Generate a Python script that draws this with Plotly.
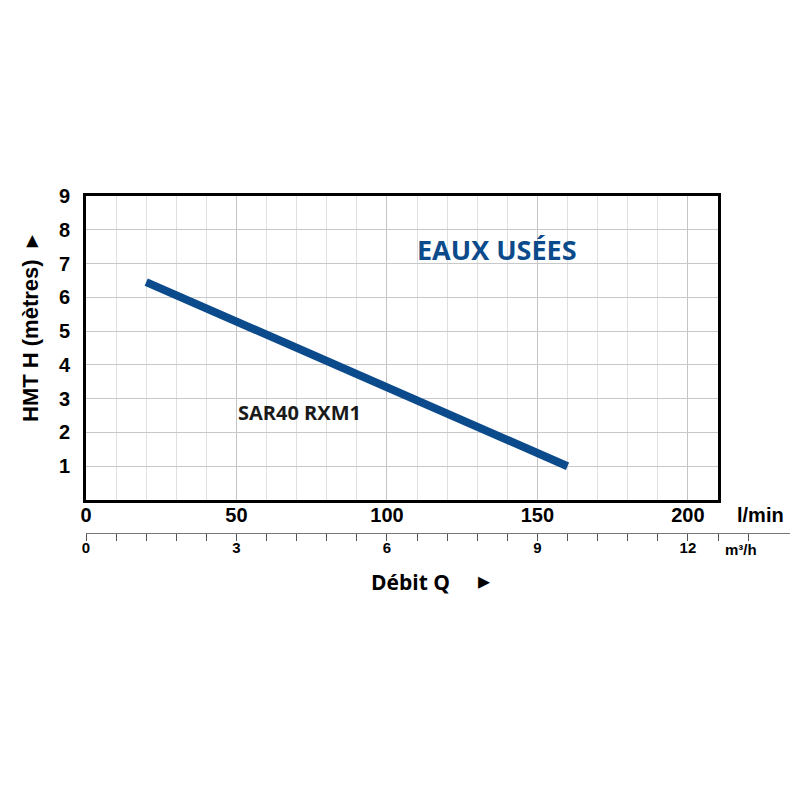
import plotly.graph_objects as go

# Data
flow_lmin = [20, 50, 100, 150, 160]
head_m = [6.45, 5.27, 3.33, 1.38, 1.0]
x_tick_vals = [0, 50, 100, 150, 200]
y_tick_vals = [1, 2, 3, 4, 5, 6, 7, 8, 9]
m3h_tick_vals = [0, 3, 6, 9, 12]
m3h_minor_vals = [round(0.6 * i, 2) for i in range(0, 23)]

X_MAX = 210
Y_MAX = 9
BLUE = "#0b4a8b"
ARIAL = "Liberation Sans, Arial, sans-serif"
OPEN = "Open Sans, sans-serif"

# screen geometry (page body has an 8px margin)
OFF = 8
P_L, P_R, P_T, P_B = 86, 790, 196, 560   # paper area on screen
PW, PH = P_R - P_L, P_B - P_T
PLOT_R, PLOT_B = 718, 500


def px(s):
    return (s - P_L) / PW


def py(s):
    return (P_B - s) / PH


px_per_l = (PLOT_R - P_L) / X_MAX
m3h_max = PW / px_per_l * 0.06

fig = go.Figure()
fig.add_trace(go.Scatter(x=flow_lmin, y=head_m, mode="lines",
                         line=dict(color=BLUE, width=8), showlegend=False,
                         hoverinfo="skip"))
# invisible trace so the secondary (m³/h) axis is drawn
fig.add_trace(go.Scatter(x=[0], y=[0], xaxis="x2", yaxis="y2", mode="markers",
                         marker=dict(opacity=0), showlegend=False, hoverinfo="skip"))

fig.update_layout(
    width=800, height=800,
    margin=dict(l=P_L - OFF, r=800 - P_R + OFF, t=P_T - OFF, b=800 - P_B + OFF),
    paper_bgcolor="white", plot_bgcolor="white",
    xaxis=dict(domain=[0, px(PLOT_R)], range=[0, X_MAX],
               tickvals=x_tick_vals, ticks="", showline=True, linecolor="black",
               linewidth=3, mirror=True, showgrid=True, gridcolor="#c4c4c4",
               gridwidth=1.2, zeroline=False,
               minor=dict(dtick=10, tick0=0, showgrid=True, gridcolor="#e0e0e0",
                          gridwidth=1),
               tickfont=dict(family=ARIAL, size=20, color="black", weight="bold"),
               ticklabelstandoff=-5),
    xaxis2=dict(domain=[0, 1], range=[0, m3h_max], anchor="free",
                position=py(533), side="bottom",
                tickvals=m3h_tick_vals, ticks="outside", ticklen=7, tickwidth=1,
                tickcolor="#555", showline=True, linecolor="#777", linewidth=1,
                showgrid=False, zeroline=False,
                minor=dict(tickmode="array", tickvals=m3h_minor_vals, ticks="outside",
                           ticklen=7, tickwidth=1, tickcolor="#555"),
                tickfont=dict(family=ARIAL, size=15, color="black", weight="bold"),
                ticklabelstandoff=-6),
    yaxis=dict(domain=[py(PLOT_B), 1], range=[0, Y_MAX], tickvals=y_tick_vals,
               ticks="", showline=True, linecolor="black", linewidth=3, mirror=True,
               showgrid=True, gridcolor="#c8c8c8", gridwidth=1.2, zeroline=False,
               tickfont=dict(family=ARIAL, size=20, color="black", weight="bold"),
               ticklabelstandoff=9),
    yaxis2=dict(domain=[0, 0.005], anchor="x2", visible=False, range=[1, 2]),
)


def note(text, x, y, font, **kw):
    fig.add_annotation(text=text, x=x, y=y, xref="paper", yref="paper",
                       xanchor="center", yanchor="middle", showarrow=False,
                       font=font, **kw)


note("EAUX USÉES", px(497), py(249), dict(family=OPEN, size=27, color=BLUE, weight="bold"))
fig.add_annotation(text="SAR40 RXM1", xref="x", yref="y", x=70.9, y=2.6, showarrow=False,
                   xanchor="center", yanchor="middle",
                   font=dict(family=OPEN, size=20, color="#1a1a1a", weight="bold"))
note("l/min", px(760), py(515), dict(family=ARIAL, size=20, color="black", weight="bold"))
note("m³/h", px(741), py(549), dict(family=ARIAL, size=15, color="black", weight="bold"))
note("Débit Q", px(410), py(582), dict(family=OPEN, size=21, color="black", weight="bold"))
note("▸", px(484), py(581), dict(family="DejaVu Sans", size=24, color="black"))
note("HMT H (mètres)  ▸", px(30), py(329),
     dict(family=ARIAL, size=22, color="black", weight="bold"), textangle=-90)

fig.write_html("out.html")
